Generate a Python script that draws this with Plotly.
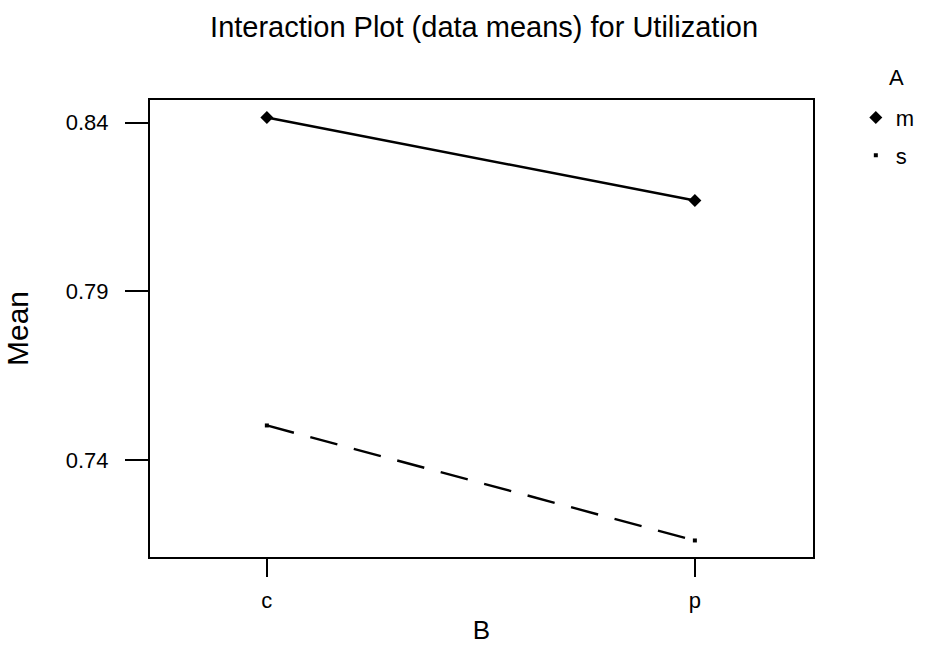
import plotly.graph_objects as go

# Factor levels and cell means
b_levels = ["c", "p"]
a_levels = ["m", "s"]
mean_m = [0.8415, 0.8169]
mean_s = [0.7502, 0.7161]
y_ticks = [0.74, 0.79, 0.84]
y_tick_labels = ["0.74", "0.79", "0.84"]

x_pos = list(range(len(b_levels)))
font_family = "Liberation Sans, Arial, sans-serif"

fig = go.Figure()

series = [
    (a_levels[0], mean_m, "solid", "diamond", 10),
    (a_levels[1], mean_s, "28px,17px", "square", 4),
]

for name, vals, dash, symbol, msize in series:
    fig.add_trace(go.Scatter(
        x=x_pos, y=vals, mode="lines+markers", name=name,
        line=dict(color="black", width=2.4, dash=dash),
        marker=dict(symbol=symbol, size=msize, color="black"),
        showlegend=False, hoverinfo="skip",
    ))
    # marker-only legend entry
    fig.add_trace(go.Scatter(
        x=[None], y=[None], mode="markers", name=name,
        legendgroup=name,
        marker=dict(symbol=symbol, size=msize, color="black"),
        showlegend=True,
    ))

fig.update_layout(
    width=931, height=645,
    margin=dict(l=150, r=117, t=100, b=88),
    paper_bgcolor="white", plot_bgcolor="white",
    font=dict(family=font_family, size=22, color="black"),
    title=dict(
        text="Interaction Plot (data means) for Utilization",
        x=0.52, xanchor="center", y=0.958, yanchor="middle",
        font=dict(size=29, family=font_family),
    ),
    legend=dict(
        x=1.063, xanchor="left", y=1.007, yanchor="top",
        bgcolor="rgba(0,0,0,0)", borderwidth=0,
        itemwidth=30, traceorder="grouped", tracegroupgap=6,
        font=dict(size=22, family=font_family),
    ),
    showlegend=True,
    annotations=[dict(
        text="A", xref="paper", yref="paper",
        x=1.126, y=1.05, xanchor="center", yanchor="middle",
        showarrow=False, font=dict(size=22, family=font_family),
    )],
)

fig.update_xaxes(
    range=[-0.273, 1.276],
    tickmode="array", tickvals=x_pos, ticktext=b_levels,
    tickfont=dict(size=22, family=font_family),
    ticks="outside", ticklen=18, tickwidth=2, tickcolor="black",
    ticklabelstandoff=5,
    showline=True, linecolor="black", linewidth=2, mirror=True,
    showgrid=False, zeroline=False, automargin=False,
    title=dict(text="B", font=dict(size=26, family=font_family), standoff=16),
)
fig.update_yaxes(
    range=[0.7112, 0.8467],
    tickmode="array", tickvals=y_ticks, ticktext=y_tick_labels,
    tickfont=dict(size=22, family=font_family),
    ticks="outside", ticklen=23, tickwidth=2, tickcolor="black",
    ticklabelstandoff=12,
    showline=True, linecolor="black", linewidth=2, mirror=True,
    showgrid=False, zeroline=False, automargin=False,
    title=dict(text="Mean", font=dict(size=30, family=font_family), standoff=28),
)

fig.write_html("out.html")
